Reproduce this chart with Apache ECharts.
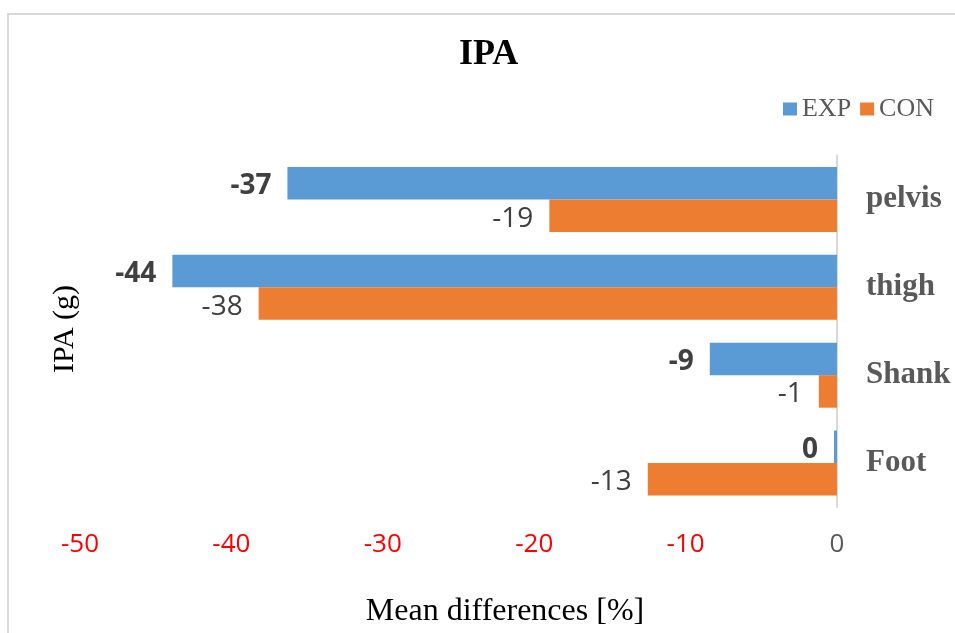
<!DOCTYPE html>
<html>
<head>
<meta charset="utf-8">
<script src="https://cdn.jsdelivr.net/npm/echarts@6.0.0/dist/echarts.min.js"></script>
<style>
  html, body { margin: 0; padding: 0; background: #fff; }
  #chart { width: 955px; height: 633px; }
</style>
</head>
<body>
<div id="chart"></div>
<script>
// IPA mean differences, horizontal grouped bars (EXP blue, CON orange)
const categories = ["pelvis", "thigh", "Shank", "Foot"];
const expValues = [-36.3, -43.9, -8.4, -0.2];
const conValues = [-19.0, -38.2, -1.2, -12.5];
const expLabels = ["-37", "-44", "-9", "0"];
const conLabels = ["-19", "-38", "-1", "-13"];
const xTicks = { min: -50, max: 0, interval: 10 };

const BLUE = "#5B9BD5";
const ORANGE = "#ED7D31";
const SERIF = "'Liberation Serif', 'Times New Roman', serif";
const SANS = "'Open Sans', 'Liberation Sans', sans-serif";

const chart = echarts.init(document.getElementById("chart"), null, { renderer: "canvas" });

chart.setOption({
  animation: false,
  backgroundColor: "#fff",
  title: {
    text: "IPA",
    left: 459,
    top: 37,
    padding: 0,
    textStyle: { fontFamily: SERIF, fontWeight: "bold", fontSize: 36, color: "#000" },
  },
  legend: {
    data: ["EXP", "CON"],
    right: 21,
    top: 96,
    padding: 0,
    itemWidth: 14,
    itemHeight: 13,
    itemGap: 9,
    icon: "rect",
    textStyle: { fontFamily: SERIF, fontSize: 26, color: "#595959" },
  },
  graphic: [
    {
      type: "rect",
      shape: { x: 8, y: 14, width: 1000, height: 700 },
      style: { fill: "none", stroke: "#d9d9d9", lineWidth: 2 },
      silent: true,
    },
    {
      type: "text",
      x: 65,
      y: 329,
      rotation: Math.PI / 2,
      style: {
        text: "IPA (g)",
        fontFamily: SERIF,
        fontSize: 30,
        fill: "#000",
        align: "center",
        verticalAlign: "middle",
      },
    },
  ],
  grid: { left: 80, right: 118, top: 155.5, height: 352 },
  xAxis: {
    type: "value",
    min: xTicks.min,
    max: xTicks.max,
    interval: xTicks.interval,
    axisLine: { show: false },
    axisTick: { show: false },
    splitLine: { show: false },
    axisLabel: {
      margin: 25,
      fontFamily: SANS,
      fontSize: 26,
      color: (v) => (Number(v) === 0 ? "#595959" : "#ff0000"),
    },
    name: "Mean differences [%]",
    nameLocation: "middle",
    nameGap: 89,
    nameTextStyle: { fontFamily: SERIF, fontSize: 32, color: "#000", padding: [0, 0, 0, 93] },
  },
  yAxis: {
    type: "category",
    data: categories,
    inverse: true,
    position: "right",
    axisLine: { lineStyle: { color: "#d9d9d9", width: 2 } },
    axisTick: { show: false },
    axisLabel: {
      margin: 29,
      padding: [10, 0, 0, 0],
      fontFamily: SERIF,
      fontWeight: "bold",
      fontSize: 31,
      color: "#595959",
    },
  },
  series: [
    {
      name: "EXP",
      type: "bar",
      data: expValues,
      barGap: "0%",
      barCategoryGap: "26%",
      itemStyle: { color: BLUE },
      label: {
        show: true,
        position: "left",
        distance: 16,
        offset: [0, 3],
        fontFamily: SANS,
        fontWeight: "bold",
        fontSize: 28,
        color: "#404040",
        formatter: (p) => expLabels[p.dataIndex],
      },
    },
    {
      name: "CON",
      type: "bar",
      data: conValues,
      itemStyle: { color: ORANGE },
      label: {
        show: true,
        position: "left",
        distance: 16,
        offset: [0, 3],
        fontFamily: SANS,
        fontSize: 28,
        color: "#404040",
        formatter: (p) => conLabels[p.dataIndex],
      },
    },
  ],
});
</script>
</body>
</html>
